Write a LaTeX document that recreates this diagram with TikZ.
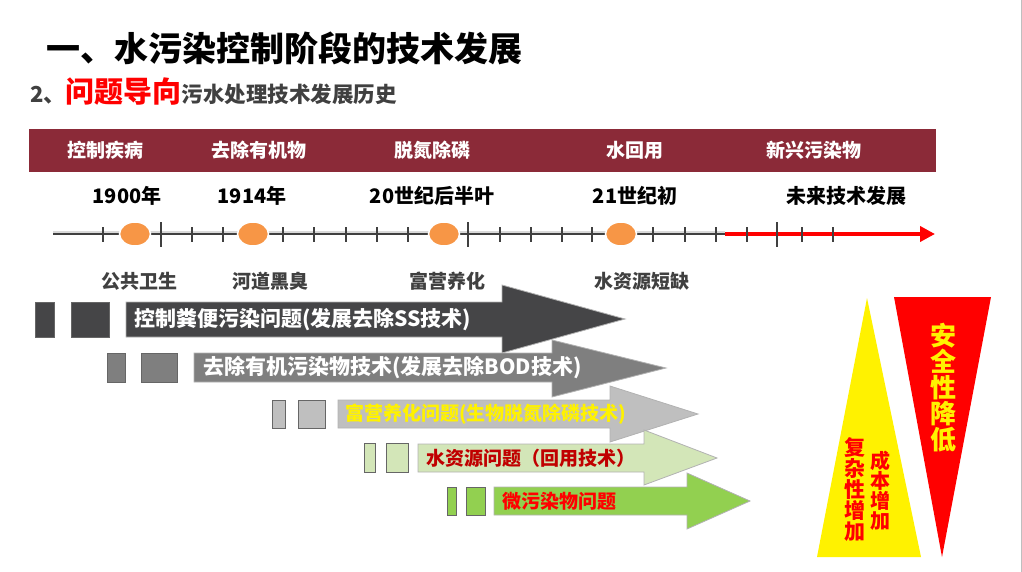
\documentclass[tikz,border=0pt]{standalone}
\usepackage{fontspec}
\setmainfont{Noto Sans CJK SC}
\usetikzlibrary{arrows.meta,shapes.geometric}
\definecolor{banred}{HTML}{8B2A38}
\definecolor{dotorange}{HTML}{F79646}
\definecolor{axisgray}{HTML}{404040}
\definecolor{txtgray}{HTML}{404040}
\definecolor{arrowA}{HTML}{454547}
\definecolor{arrowB}{HTML}{7F7F7F}
\definecolor{arrowC}{HTML}{BFBFBF}
\definecolor{arrowD}{HTML}{D3E6B8}
\definecolor{arrowE}{HTML}{92D050}
\definecolor{darkred}{HTML}{C00000}
\tikzset{
  bantxt/.style={text=white, font=\bfseries\fontsize{19}{22}\selectfont, inner sep=0pt},
  yeartxt/.style={text=black, font=\bfseries\fontsize{20}{22}\selectfont, inner sep=0pt},
  probtxt/.style={text=txtgray, font=\bfseries\fontsize{19}{22}\selectfont, inner sep=0pt},
  artxt/.style={anchor=west, inner sep=0pt, font=\bfseries\fontsize{#1}{22}\selectfont},
  evdot/.style={ellipse, fill=dotorange, draw=white, line width=1.5, minimum width=31, minimum height=24, inner sep=0pt},
  tickmark/.style={axisgray, line width=1.6},
  stub/.style={draw=black!60, line width=0.8},
  blockarr/.style={draw=gray!60, line width=0.8},
  vtxt/.style={align=center, inner sep=0pt, font=\bfseries\fontsize{#1}{#1}\selectfont}
}
\begin{document}
\begin{tikzpicture}[x=1pt, y=-1pt]
\useasboundingbox (0,0) rectangle (1022,572);
\draw[gray!50, line width=1] (1021,0) -- (1021,572);

% title
\node[anchor=west, inner sep=0pt, font=\bfseries\fontsize{34}{36}\selectfont] (title) at (46,48) {一、水污染控制阶段的技术发展};
\node[anchor=base west, inner sep=0pt, font=\bfseries] (sub) at (30,103) {{\color{txtgray}\fontsize{22}{24}\selectfont 2、}{\color{red}\fontsize{29}{30}\selectfont 问题导向}{\color{txtgray}\fontsize{21.5}{24}\selectfont 污水处理技术发展历史}};

% banner
\fill[banred] (29,129) rectangle (936,172);
\node[bantxt] (ban1) at (105,150) {控制疾病};
\node[bantxt] (ban2) at (259,150) {去除有机物};
\node[bantxt] (ban3) at (432,150) {脱氮除磷};
\node[bantxt] (ban4) at (635,150) {水回用};
\node[bantxt] (ban5) at (814,150) {新兴污染物};

\node[yeartxt] (yr1) at (127,196) {1900年};
\node[yeartxt] (yr2) at (252,196) {1914年};
\node[yeartxt] (yr3) at (432,196) {20世纪后半叶};
\node[yeartxt] (yr4) at (635,196) {21世纪初};
\node[yeartxt] (yr5) at (846,196) {未来技术发展};

% time line
\coordinate (tlstart) at (53,234);
\coordinate (tlmid) at (725,234);
\coordinate (tlend) at (935,234);
\draw[gray!30, line width=3.5] ([yshift=1]tlstart) -- ([yshift=1]tlmid);
\draw[axisgray, line width=2.2] (tlstart) -- (tlmid);
\draw[red, line width=4.5, -{Triangle[length=15pt,width=15pt]}] (tlmid) -- (tlend);
\draw[tickmark] (103,227) -- (103,242);
\draw[tickmark] (161,222) -- (161,247);
\draw[tickmark] (192,227) -- (192,242);
\draw[tickmark] (223,227) -- (223,242);
\draw[tickmark] (283,227) -- (283,242);
\draw[tickmark] (314,227) -- (314,242);
\draw[tickmark] (346,227) -- (346,242);
\draw[tickmark] (377,227) -- (377,242);
\draw[tickmark] (408,227) -- (408,242);
\draw[tickmark] (468,222) -- (468,247);
\draw[tickmark] (500,227) -- (500,242);
\draw[tickmark] (531,227) -- (531,242);
\draw[tickmark] (562,227) -- (562,242);
\draw[tickmark] (592,227) -- (592,242);
\draw[tickmark] (653,227) -- (653,242);
\draw[tickmark] (685,227) -- (685,242);
\draw[tickmark] (716,227) -- (716,242);
\draw[tickmark] (747,227) -- (747,242);
\draw[tickmark] (777,222) -- (777,247);
\draw[tickmark] (802,227) -- (802,242);
\draw[tickmark] (833,227) -- (833,242);
\node[evdot] (ev1) at (135,234) {};
\node[evdot] (ev2) at (253,234) {};
\node[evdot] (ev3) at (444,234) {};
\node[evdot] (ev4) at (621,234) {};

\node[probtxt] (pb1) at (139,281) {公共卫生};
\node[probtxt] (pb2) at (270,281) {河道黑臭};
\node[probtxt] (pb3) at (447,281) {富营养化};
\node[probtxt] (pb4) at (642,281) {水资源短缺};

% problem arrows
\fill[arrowA, stub] (35,302) rectangle (54,337);
\fill[arrowA, stub] (71,302) rectangle (109,337);
\fill[arrowA, blockarr] (126,302) -- (502,302) -- (502,285) -- (625,319) -- (502,353) -- (502,337) -- (126,337) -- cycle;
\node[artxt=21, text=white] (ar1) at (134,320) {控制粪便污染问题(发展去除SS技术)};

\fill[arrowB, stub] (107,353) rectangle (125,382);
\fill[arrowB, stub] (141,353) rectangle (177,382);
\fill[arrowB, blockarr] (194,353) -- (552,353) -- (552,340) -- (666,368) -- (552,397) -- (552,382) -- (194,382) -- cycle;
\node[artxt=21, text=white] (ar2) at (203,368) {去除有机污染物技术(发展去除BOD技术)};

\fill[arrowC, stub] (272,400) rectangle (285,428);
\fill[arrowC, stub] (298,400) rectangle (325,428);
\fill[arrowC, blockarr] (338,400) -- (610,400) -- (610,386) -- (698,414) -- (610,442) -- (610,428) -- (338,428) -- cycle;
\node[artxt=19, text=yellow] (ar3) at (345,414) {富营养化问题(生物脱氮除磷技术)};

\fill[arrowD, stub] (364,443) rectangle (375,472);
\fill[arrowD, stub] (386,443) rectangle (408,472);
\fill[arrowD, blockarr] (418,444) -- (644,444) -- (644,430) -- (717,458) -- (644,485) -- (644,472) -- (418,472) -- cycle;
\node[artxt=19, text=darkred] (ar4) at (426,458) {水资源问题（回用技术）};

\fill[arrowE, stub] (447,487) rectangle (456,515);
\fill[arrowE, stub] (466,487) rectangle (485,515);
\fill[arrowE, blockarr] (494,487) -- (687,487) -- (687,473) -- (750,501) -- (687,529) -- (687,515) -- (494,515) -- cycle;
\node[artxt=19, text=red] (ar5) at (502,501) {微污染物问题};

% cost and safety
\fill[yellow] (867,298) -- (921,557) -- (817,557) -- cycle;
\fill[red] (894,297) -- (991,297) -- (942,557) -- cycle;
\node[vtxt=26, text=yellow] (safe) at (943,388) {安\\全\\性\\降\\低};
\node[vtxt=21, text=red] (cplx) at (855,490) {复\\杂\\性\\增\\加};
\node[vtxt=20, text=red] (cost) at (880,491) {成\\本\\增\\加};
\end{tikzpicture}
\end{document}
